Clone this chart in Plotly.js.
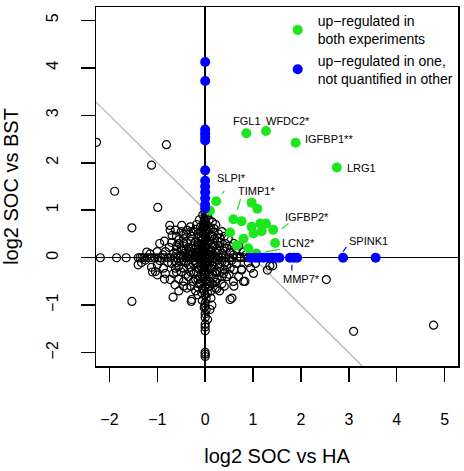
<!DOCTYPE html>
<html>
<head>
<meta charset="utf-8">
<script src="https://cdn.plot.ly/plotly-3.0.1.min.js"></script>
<style>html,body{margin:0;padding:0;background:#fff;}#chart{width:464px;height:471px;}</style>
</head>
<body>
<div id="chart"></div>
<script>
// ---- data (log2 SOC vs HA, log2 SOC vs BST) ----
const blackPoints = [
  // column on x = 0
  [0,0.98],[0,0.92],[0.02,0.88],[0,0.84],[-0.02,0.80],[0,0.76],[0.02,0.72],[0,0.68],[-0.02,0.64],[0,0.60],
  [0.02,0.56],[0,0.52],[-0.02,0.48],[0,0.44],[0.02,0.40],[0,0.36],[-0.02,0.32],[0,0.28],[0.02,0.24],[0,0.20],
  [-0.02,0.16],[0,0.12],[0.02,0.08],[0,0.04],[0,0],[-0.02,-0.04],[0,-0.08],[0.02,-0.12],[0,-0.16],[-0.02,-0.20],
  [0,-0.25],[0.02,-0.30],[0,-0.36],[-0.02,-0.42],[0,-0.48],[0.02,-0.55],[0,-0.62],[-0.02,-0.70],[0,-0.78],[0.02,-0.86],
  [0,-0.95],[0,-1.02],[0.02,-1.10],[0,-1.18],[0,-1.26],[0,-1.40],[0,-1.46],[0,-1.54],[0,-1.99],[0,-2.03],[0,-2.08],
  // row on y = 0
  [-2.19,0],[-1.85,0],[-1.65,0],[-1.40,0],[-1.36,0],[-1.32,0],[-1.28,0],[-1.22,0],[-1.16,0],[-1.11,0],
  [-1.05,0],[-0.98,0],[-0.92,0],[-0.85,0],[-0.78,0],[-0.72,0],[-0.65,0],[-0.58,0],[-0.52,0],[-0.46,0],
  [-0.40,0],[-0.34,0],[-0.28,0],[-0.22,0],[-0.16,0],[-0.10,0],[-0.05,0],[0.05,0],[0.10,0],[0.16,0],
  [0.22,0],[0.28,0],[0.35,0],[0.42,0],[0.50,0],[0.58,0],[0.66,0],[0.74,0],[0.82,0],[0.90,0],
  // upper left
  [-0.74,0.68],[-0.49,0.68],[-0.31,0.65],[-0.69,0.47],[-0.45,0.49],[-0.28,0.45],[-0.14,0.51],[-0.59,0.26],
  [-0.38,0.30],[-0.21,0.33],[-0.10,0.65],[-1.00,0.13],[-0.83,0.13],[-0.66,0.09],[-0.49,0.16],[-0.31,0.13],
  [-0.55,0.38],[-0.18,0.22],[-0.08,0.35],[-0.25,0.55],[-0.12,0.80],[-0.05,0.90],[-0.15,0.42],[-0.35,0.22],
  [-0.42,0.10],[-0.60,0.18],[-0.75,0.22],[-0.88,0.06],[-1.15,0.08],[-1.22,0.12],[-0.95,0.30],[-0.20,0.12],
  [-0.10,0.18],[-0.06,0.10],[-0.28,0.06],[-0.52,0.05],[-0.70,0.32],[-0.85,0.35],[-0.45,0.40],[-0.06,0.25],
  [-0.04,0.50],[-0.18,0.70],[-0.38,0.58],[-0.62,0.58],[-0.08,0.45],[-0.15,0.08],[-0.12,0.28],[-0.03,0.15],
  [-0.73,0.58],
  [-0.60,0.45],[-0.50,0.55],[-0.40,0.50],[-0.30,0.55],[-0.20,0.60],[-0.10,0.55],[-0.55,0.30],[-0.45,0.30],
  [-0.30,0.35],[-0.25,0.25],[-0.15,0.30],[-0.05,0.40],[-0.50,0.20],[-0.40,0.18],[-0.30,0.20],[-0.22,0.18],
  [-0.12,0.15],[-0.08,0.05],[-0.60,0.08],[-0.35,0.08],[-0.18,0.05],[-0.08,0.02],[-0.12,-0.03],[-0.04,0.08],
  [-0.04,0.70],
  // lower left
  [-1.00,-0.15],[-0.83,-0.33],[-0.66,-0.33],[-0.73,-0.46],[-0.63,-0.57],[-0.45,-0.50],[-0.38,-0.64],[-0.67,-0.83],
  [-0.28,-0.88],[-0.07,-0.74],[-1.00,-0.36],[-0.87,-0.22],[-0.24,-0.33],[-0.10,-0.53],[-1.40,-0.15],[-1.53,-0.92],
  [-0.29,-0.92],[-1.12,-0.20],[-1.10,-0.30],[-0.95,-0.06],[-0.70,-0.12],[-0.55,-0.18],[-0.40,-0.10],[-0.30,-0.20],
  [-0.18,-0.12],[-0.12,-0.25],[-0.05,-0.15],[-0.50,-0.30],[-0.35,-0.40],[-0.20,-0.45],[-0.08,-0.35],[-0.15,-0.62],
  [-0.55,-0.70],[-0.78,-0.10],[-0.62,-0.22],[-0.25,-0.06],[-0.10,-0.08],[-0.04,-0.45],[-0.06,-0.90],[-0.02,-1.05],
  [-0.05,-0.65],[-0.45,-0.08],[-0.85,-0.45],[-1.25,-0.05],[-1.33,-0.10],[-0.15,-0.78],[-1.04,-0.29],
  [-0.60,-0.10],[-0.50,-0.08],[-0.35,-0.15],[-0.25,-0.12],[-0.15,-0.20],[-0.08,-0.20],[-0.60,-0.30],[-0.45,-0.22],
  [-0.30,-0.30],[-0.18,-0.30],[-0.10,-0.40],[-0.40,-0.35],[-0.55,-0.45],[-0.25,-0.50],[-0.15,-0.45],[-0.30,-0.60],
  [-0.45,-0.60],[-0.12,-0.55],[-0.20,-0.70],[-0.03,-0.30],
  // upper right
  [0.17,0.54],[0.31,0.33],[0.45,0.20],[0.59,0.06],[0.73,0.02],[0.03,0.68],[0.08,0.80],[0.12,0.62],
  [0.20,0.40],[0.10,0.45],[0.05,0.30],[0.15,0.22],[0.25,0.15],[0.35,0.10],[0.42,0.30],[0.28,0.50],
  [0.22,0.70],[0.05,0.88],[0.10,0.12],[0.05,0.06],[0.18,0.05],[0.30,0.25],[0.52,0.12],[0.60,0.30],
  [0.40,0.45],[0.12,0.30],[0.08,0.20],[0.48,0.40],[0.65,0.18],[0.80,0.12],[0.35,0.55],[0.15,0.75],
  [0.06,0.55],[0.85,0.06],[0.70,0.25],
  [0.10,0.35],[0.15,0.45],[0.25,0.35],[0.20,0.25],[0.30,0.15],[0.40,0.20],[0.12,0.15],[0.22,0.10],
  [0.08,0.60],[0.18,0.62],[0.30,0.42],[0.50,0.25],[0.38,0.05],[0.15,0.08],[0.12,0.03],[0.04,0.30],
  // lower right
  [0.52,-0.22],[0.76,-0.26],[1.01,-0.33],[0.59,-0.50],[0.80,-0.50],[0.31,-0.29],[0.21,-0.64],[0.56,-0.85],
  [0.38,-0.33],[0.17,-0.43],[0.24,-0.66],[0.52,-0.88],[1.35,-0.17],[1.41,-0.17],[1.30,-0.26],[0.83,-0.50],
  [0.76,-0.24],[0.10,-1.09],[2.53,-0.46],[3.10,-1.55],[4.77,-1.42],[0.10,-0.10],[0.20,-0.08],[0.30,-0.12],
  [0.42,-0.10],[0.55,-0.06],[0.65,-0.12],[0.90,-0.10],[1.05,-0.12],[0.12,-0.22],[0.25,-0.30],[0.45,-0.40],
  [0.08,-0.35],[0.15,-0.55],[0.35,-0.55],[0.05,-0.75],[0.12,-0.85],[0.05,-0.18],[0.70,-0.40],[0.95,-0.22],
  [0.18,-0.18],[0.08,-0.60],[0.14,-1.00],[0.05,-1.30],
  [0.10,-0.25],[0.20,-0.30],[0.30,-0.20],[0.40,-0.25],[0.25,-0.45],[0.35,-0.40],[0.15,-0.35],[0.45,-0.15],
  [0.60,-0.25],[0.50,-0.35],[0.10,-0.50],[0.22,-0.52],[0.30,-0.70],[0.12,-0.70],[0.40,-0.60],[0.60,-0.60],
  [0.25,-0.05],[0.35,-0.08],[0.08,-0.03],[0.04,-0.08],[0.04,-0.50],
  // outliers
  [-2.27,2.43],[-0.81,2.38],[-1.12,1.95],[-1.89,1.40],[-0.99,1.06],[-1.53,0.63]
];
const greenX = [0.86,1.27,1.89,2.75,0.23,0.10,0.97,1.09,0.59,0.76,0.52,0.97,1.15,1.27,1.42,1.01,1.18,0.80,0.66,1.46,1.07,0.90];
const greenY = [2.62,2.67,2.42,1.90,1.19,0.99,1.16,1.03,0.81,0.77,0.53,0.65,0.72,0.72,0.59,0.51,0.56,0.40,0.26,0.31,0.09,0.20];
const blueColY = [4.12,3.72,2.70,2.62,2.55,2.47,1.84,1.62,1.50,1.38,1.25,1.12,1.04];
const blueRowX = [0.95,1.05,1.13,1.22,1.32,1.40,1.48,1.55,1.77,1.85,1.92,2.88,3.56];
const diagIntercept = 1, diagSlope = -1;
const diagX = [-2.4, 3.4];
const labelText = ["FGL1","WFDC2*","IGFBP1**","LRG1","SLPI*","TIMP1*","IGFBP2*","LCN2*","SPINK1","MMP7*"];
const labelX = [0.87,1.73,2.04,2.93,0.56,1.08,2.12,1.94,3.42,2.01];
const labelY = [2.87,2.87,2.49,1.89,1.67,1.41,0.85,0.30,0.35,-0.44];
const labelAnchor = ["center","center","left","left","center","center","center","center","center","center"];
const pointerX = [[0.35,0.40],[0.67,0.74],[1.60,1.74],[1.25,1.56],[2.88,2.95],[1.81,1.81]];
const pointerY = [[1.35,1.40],[1.01,1.24],[0.61,0.72],[0.125,0.175],[0.125,0.23],[-0.15,-0.27]];
const pointerColor = ["#1ee61e","#1ee61e","#1ee61e","#1ee61e","#0000ff","#0000ff"];
const legendNames = ["up\u2212regulated in<br>both experiments","up\u2212regulated in one,<br>not quantified in other"];
const tickVals = [-2,-1,0,1,2,3,4,5];
const GREEN = "#1ee61e", BLUE = "#0000ff";

// ---- traces ----
const traces = [];
traces.push({x: diagX, y: diagX.map(v => diagIntercept + diagSlope*v), mode:'lines',
  line:{color:'#bebebe', width:1.5}, showlegend:false, hoverinfo:'skip'});
traces.push({x: blackPoints.map(p=>p[0]), y: blackPoints.map(p=>p[1]), mode:'markers', type:'scatter',
  marker:{symbol:'circle-open', size:8, color:'black', line:{width:1.2, color:'black'}}, showlegend:false});
pointerX.forEach((px,i)=>traces.push({x:px, y:pointerY[i], mode:'lines', line:{color:pointerColor[i], width:1.2}, showlegend:false, hoverinfo:'skip'}));
traces.push({x: greenX, y: greenY, mode:'markers', name: legendNames[0],
  marker:{symbol:'circle', size:10, color:GREEN}});
traces.push({x: blueColY.map(()=>0).concat(blueRowX), y: blueColY.concat(blueRowX.map(()=>0)), mode:'markers', name: legendNames[1],
  marker:{symbol:'circle', size:10, color:BLUE}});

const annotations = labelText.map((t,i)=>({x:labelX[i], y:labelY[i], xref:'x', yref:'y', text:t, showarrow:false,
  xanchor:labelAnchor[i], yanchor:'middle', font:{family:'Liberation Sans, Arial, sans-serif', size:11, color:'black'}}));

const axisCommon = {
  range:[-2.28,5.28], tickvals: tickVals, showgrid:false,
  zeroline:true, zerolinecolor:'black', zerolinewidth:1.5,
  showline:true, mirror:true, linecolor:'black', linewidth:1.5,
  ticks:'outside', ticklen:14, tickwidth:1.5, tickcolor:'black',
  tickfont:{family:'Liberation Sans, Arial, sans-serif', size:16, color:'black'},
  automargin:false
};

const layout = {
  width:464, height:471,
  margin:{l:96, r:6, t:5, b:105},
  paper_bgcolor:'white', plot_bgcolor:'white',
  font:{family:'Liberation Sans, Arial, sans-serif', color:'black'},
  xaxis: Object.assign({}, axisCommon, {ticklabelstandoff:24,
    title:{text:'log2 SOC vs HA', font:{size:20, color:'black'}, standoff:22}}),
  yaxis: Object.assign({}, axisCommon, {tickangle:-90, ticklabelstandoff:16,
    title:{text:'log2 SOC vs BST', font:{size:20, color:'black'}, standoff:20}}),
  showlegend:true,
  legend:{x:0.502, y:1.005, xanchor:'left', yanchor:'top', bgcolor:'rgba(0,0,0,0)', borderwidth:0,
    font:{size:14, color:'black'}, itemwidth:30, tracegroupgap:2},
  annotations: annotations
};

Plotly.newPlot('chart', traces, layout, {displayModeBar:false, staticPlot:true});
</script>
</body>
</html>
